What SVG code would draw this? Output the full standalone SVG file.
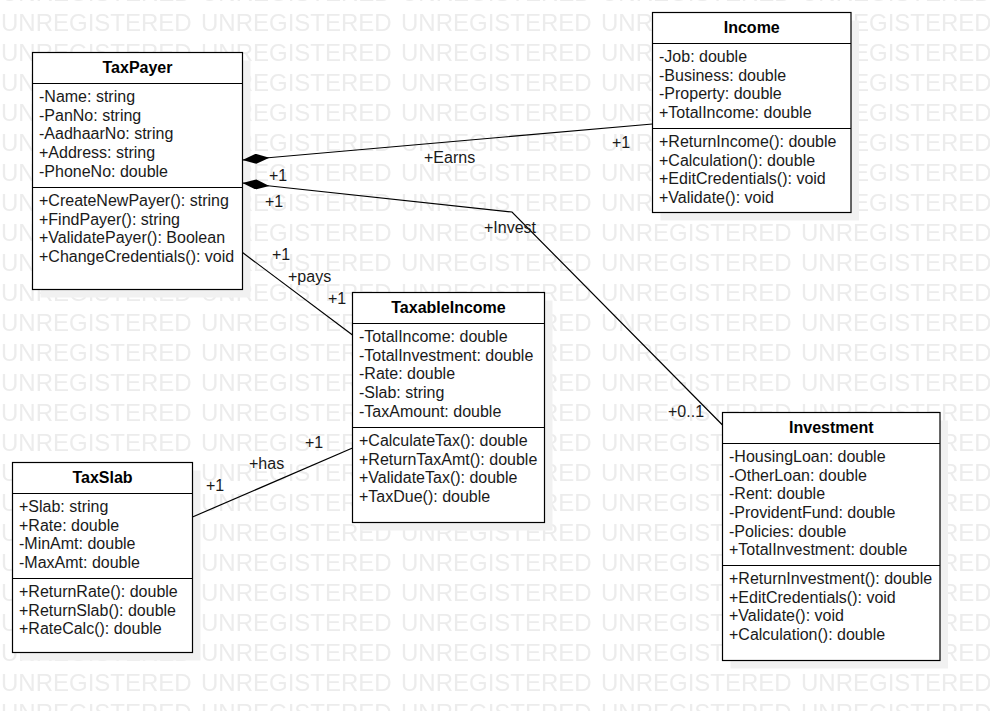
<svg xmlns="http://www.w3.org/2000/svg" width="990" height="711" viewBox="0 0 990 711">
<style>
  .wm { font-family: "Liberation Sans", Arial, sans-serif; font-size: 24px; fill: #ececec; }
  .box { fill: #ffffff; stroke: #000000; stroke-width: 1.2; }
  .shadow { fill: #f1f1f1; stroke: none; }
  .div { stroke: #000000; stroke-width: 1.2; }
  .title { font-family: "Liberation Sans", Arial, sans-serif; font-size: 16px; font-weight: bold; fill: #000; text-anchor: middle; }
  .t { font-family: "Liberation Sans", Arial, sans-serif; font-size: 16px; fill: #1a1a1a; }
  .lbl { font-family: "Liberation Sans", Arial, sans-serif; font-size: 16px; fill: #1a1a1a; }
  .conn { fill: none; stroke: #000000; stroke-width: 1.2; }
</style>
<defs>
  <pattern id="watermark" patternUnits="userSpaceOnUse" x="0" y="5" width="200" height="30">
    <text class="wm" x="1" y="25.7">UNREGISTERED</text>
  </pattern>
  <marker id="diamond" viewBox="0 0 27 10" refX="0" refY="5" markerWidth="27" markerHeight="10" markerUnits="userSpaceOnUse" orient="auto">
    <path d="M0,5 L13.5,0 L27,5 L13.5,10 Z" fill="#000000"/>
  </marker>
</defs>
<rect x="0" y="0" width="990" height="711" fill="#ffffff"/>
<rect x="0" y="0" width="990" height="711" fill="url(#watermark)"/>

<g id="TaxPayer">
  <rect class="shadow" x="40.5" y="60.5" width="210" height="237"/>
  <rect class="box" x="32.5" y="52.5" width="210" height="237"/>
  <line class="div" x1="32.5" y1="83.5" x2="242.5" y2="83.5"/>
  <line class="div" x1="32.5" y1="187.5" x2="242.5" y2="187.5"/>
  <text class="title" x="137.5" y="73">TaxPayer</text>
  <text class="t" x="39" y="102">-Name: string</text>
  <text class="t" x="39" y="120.7">-PanNo: string</text>
  <text class="t" x="39" y="139.3">-AadhaarNo: string</text>
  <text class="t" x="39" y="158">+Address: string</text>
  <text class="t" x="39" y="176.7">-PhoneNo: double</text>
  <text class="t" x="39" y="206">+CreateNewPayer(): string</text>
  <text class="t" x="39" y="224.7">+FindPayer(): string</text>
  <text class="t" x="39" y="243.3">+ValidatePayer(): Boolean</text>
  <text class="t" x="39" y="262">+ChangeCredentials(): void</text>
</g>

<g id="Income">
  <rect class="shadow" x="660.5" y="20.5" width="198.5" height="200"/>
  <rect class="box" x="652.5" y="12.5" width="198.5" height="200"/>
  <line class="div" x1="652.5" y1="43.5" x2="851" y2="43.5"/>
  <line class="div" x1="652.5" y1="128.5" x2="851" y2="128.5"/>
  <text class="title" x="751.75" y="33">Income</text>
  <text class="t" x="659" y="62">-Job: double</text>
  <text class="t" x="659" y="80.7">-Business: double</text>
  <text class="t" x="659" y="99.3">-Property: double</text>
  <text class="t" x="659" y="118">+TotalIncome: double</text>
  <text class="t" x="659" y="147">+ReturnIncome(): double</text>
  <text class="t" x="659" y="165.7">+Calculation(): double</text>
  <text class="t" x="659" y="184.3">+EditCredentials(): void</text>
  <text class="t" x="659" y="203">+Validate(): void</text>
</g>

<g id="TaxableIncome">
  <rect class="shadow" x="360.5" y="300.5" width="192" height="230"/>
  <rect class="box" x="352.5" y="292.5" width="192" height="230"/>
  <line class="div" x1="352.5" y1="323.5" x2="544.5" y2="323.5"/>
  <line class="div" x1="352.5" y1="427.5" x2="544.5" y2="427.5"/>
  <text class="title" x="448.5" y="313">TaxableIncome</text>
  <text class="t" x="359" y="342">-TotalIncome: double</text>
  <text class="t" x="359" y="360.7">-TotalInvestment: double</text>
  <text class="t" x="359" y="379.3">-Rate: double</text>
  <text class="t" x="359" y="398">-Slab: string</text>
  <text class="t" x="359" y="416.7">-TaxAmount: double</text>
  <text class="t" x="359" y="446">+CalculateTax(): double</text>
  <text class="t" x="359" y="464.7">+ReturnTaxAmt(): double</text>
  <text class="t" x="359" y="483.3">+ValidateTax(): double</text>
  <text class="t" x="359" y="502">+TaxDue(): double</text>
</g>

<g id="Investment">
  <rect class="shadow" x="730.5" y="420.5" width="217.5" height="248"/>
  <rect class="box" x="722.5" y="412.5" width="217.5" height="248"/>
  <line class="div" x1="722.5" y1="443.5" x2="940" y2="443.5"/>
  <line class="div" x1="722.5" y1="565.5" x2="940" y2="565.5"/>
  <text class="title" x="831.25" y="433">Investment</text>
  <text class="t" x="729" y="462">-HousingLoan: double</text>
  <text class="t" x="729" y="480.7">-OtherLoan: double</text>
  <text class="t" x="729" y="499.3">-Rent: double</text>
  <text class="t" x="729" y="518">-ProvidentFund: double</text>
  <text class="t" x="729" y="536.7">-Policies: double</text>
  <text class="t" x="729" y="555.3">+TotalInvestment: double</text>
  <text class="t" x="729" y="584">+ReturnInvestment(): double</text>
  <text class="t" x="729" y="602.7">+EditCredentials(): void</text>
  <text class="t" x="729" y="621.3">+Validate(): void</text>
  <text class="t" x="729" y="640">+Calculation(): double</text>
</g>

<g id="TaxSlab">
  <rect class="shadow" x="20.5" y="470.5" width="180" height="190"/>
  <rect class="box" x="12.5" y="462.5" width="180" height="190"/>
  <line class="div" x1="12.5" y1="493.5" x2="192.5" y2="493.5"/>
  <line class="div" x1="12.5" y1="578.5" x2="192.5" y2="578.5"/>
  <text class="title" x="102.5" y="483">TaxSlab</text>
  <text class="t" x="19" y="512">+Slab: string</text>
  <text class="t" x="19" y="530.7">+Rate: double</text>
  <text class="t" x="19" y="549.3">-MinAmt: double</text>
  <text class="t" x="19" y="568">-MaxAmt: double</text>
  <text class="t" x="19" y="597">+ReturnRate(): double</text>
  <text class="t" x="19" y="615.7">+ReturnSlab(): double</text>
  <text class="t" x="19" y="634.3">+RateCalc(): double</text>
</g>

<g id="connectors">
  <path id="earns" class="conn" d="M242.5,160 L652.5,124" marker-start="url(#diamond)"/>
  <path id="invest" class="conn" d="M242.5,183 L512,212 L722.5,425" marker-start="url(#diamond)"/>
  <path id="pays" class="conn" d="M242.5,252.5 L352.5,335"/>
  <path id="has" class="conn" d="M192.5,517 L352.5,448"/>
  <text class="lbl" x="424" y="163">+Earns</text>
  <text class="lbl" x="612" y="148">+1</text>
  <text class="lbl" x="269" y="181">+1</text>
  <text class="lbl" x="265" y="207">+1</text>
  <text class="lbl" x="484" y="233">+Invest</text>
  <text class="lbl" x="668" y="417">+0..1</text>
  <text class="lbl" x="272" y="260">+1</text>
  <text class="lbl" x="288" y="282">+pays</text>
  <text class="lbl" x="328" y="304">+1</text>
  <text class="lbl" x="305" y="448">+1</text>
  <text class="lbl" x="249" y="469">+has</text>
  <text class="lbl" x="206" y="491">+1</text>
</g>
</svg>
